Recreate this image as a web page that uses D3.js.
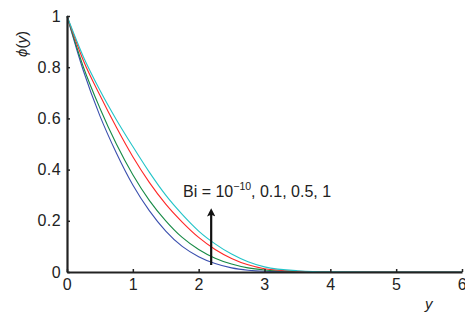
<!DOCTYPE html>
<html>
<head>
<meta charset="utf-8">
<script src="https://cdn.jsdelivr.net/npm/d3@7"></script>
<style>
  body { margin: 0; background: #fff; }
  text { font-family: "Liberation Sans", Arial, sans-serif; }
</style>
</head>
<body>
<script>
// chart size
var dimensions = { width: 465, height: 316 };
var margin = { top: 16, right: 3, bottom: 44, left: 67 };

// data
var yValues = [0, 0.25, 0.5, 0.75, 1, 1.25, 1.5, 1.75, 2, 2.25, 2.5, 2.75, 3, 3.5, 4, 5, 6];
var phiBi0 = [1, 0.785, 0.61, 0.465, 0.34, 0.24, 0.16, 0.10, 0.06, 0.033, 0.016, 0.007, 0.003, 0.001, 0, 0, 0];
var phiBi01 = [1, 0.80, 0.64, 0.50, 0.38, 0.28, 0.20, 0.135, 0.088, 0.054, 0.031, 0.016, 0.008, 0.002, 0, 0, 0];
var phiBi05 = [1, 0.825, 0.69, 0.565, 0.45, 0.35, 0.265, 0.195, 0.135, 0.088, 0.053, 0.028, 0.013, 0.003, 0, 0, 0];
var phiBi1 = [1, 0.84, 0.71, 0.595, 0.49, 0.39, 0.30, 0.225, 0.16, 0.11, 0.07, 0.04, 0.02, 0.005, 0.001, 0, 0];
var seriesColors = ['#3a4fae', '#168a45', '#ff2626', '#22c4c8'];
var xTicks = [0, 1, 2, 3, 4, 5, 6];
var yTicks = [0, 0.2, 0.4, 0.6, 0.8, 1];

var svg = d3.select('body')
  .append('svg').attr('width', dimensions.width).attr('height', dimensions.height);

var x = d3.scaleLinear().domain([0, 6]).range([margin.left, 462]);
var y = d3.scaleLinear().domain([0, 1]).range([dimensions.height - margin.bottom, margin.top]);

// curves
var line = d3.line()
  .x(function(d) { return x(d[0]); })
  .y(function(d) { return y(d[1]); })
  .curve(d3.curveMonotoneX);

[phiBi0, phiBi01, phiBi05, phiBi1].forEach(function(vals, i) {
  svg.append('path')
    .datum(yValues.map(function(v, j) { return [v, vals[j]]; }))
    .attr('fill', 'none')
    .attr('stroke', seriesColors[i])
    .attr('stroke-width', 1.1)
    .attr('d', line);
});

// axes
var fmt = d3.format('~g');
var xAxis = svg.append('g')
  .attr('transform', 'translate(0,' + y(0) + ')')
  .call(d3.axisBottom(x).tickValues(xTicks).tickFormat(fmt).tickSizeInner(-3).tickSizeOuter(0).tickPadding(7));
var yAxis = svg.append('g')
  .attr('transform', 'translate(' + x(0) + ',0)')
  .call(d3.axisLeft(y).tickValues(yTicks).tickFormat(fmt).tickSizeInner(-3).tickSizeOuter(0).tickPadding(6));

[xAxis, yAxis].forEach(function(a) {
  a.select('.domain').attr('stroke', '#222').attr('stroke-width', 2.2);
  a.selectAll('.tick line').attr('stroke', '#222').attr('stroke-width', 1.5);
  a.selectAll('.tick text').attr('font-size', 16).attr('fill', '#222')
    .style('letter-spacing', '0.4px')
    .style('font-family', '"Liberation Sans", Arial, sans-serif');
});

// axis titles
svg.append('text')
  .attr('x', 425).attr('y', 309)
  .attr('font-size', 15).attr('font-style', 'italic').attr('fill', '#222')
  .text('y');

svg.append('text')
  .attr('transform', 'translate(27,44) rotate(-90)')
  .attr('text-anchor', 'middle')
  .attr('font-size', 15).attr('fill', '#222')
  .html('<tspan font-style="italic">\u03d5</tspan>(<tspan font-style="italic">y</tspan>)');

// annotation
var label = svg.append('text')
  .attr('x', 183).attr('y', 197)
  .attr('font-size', 16).attr('fill', '#222');
label.append('tspan').text('Bi = 10');
label.append('tspan').attr('font-size', 10.5).attr('dy', -7).text('\u221210');
label.append('tspan').attr('dy', 7).text(', 0.1, 0.5, 1');

// arrow head drawn pointing along +x so orient=auto turns it with the line
svg.append('defs').append('marker')
  .attr('id', 'head')
  .attr('viewBox', '0 0 10 10')
  .attr('refX', 3).attr('refY', 5)
  .attr('markerWidth', 5).attr('markerHeight', 3.8)
  .attr('markerUnits', 'strokeWidth')
  .attr('orient', 'auto')
  .append('path').attr('d', 'M0,0 L10,5 L0,10 L2,5 Z').attr('fill', '#111');

svg.append('line')
  .attr('x1', x(2.19)).attr('x2', x(2.19))
  .attr('y1', 265).attr('y2', 214)
  .attr('stroke', '#111').attr('stroke-width', 2.2)
  .attr('marker-end', 'url(#head)');
</script>
</body>
</html>
